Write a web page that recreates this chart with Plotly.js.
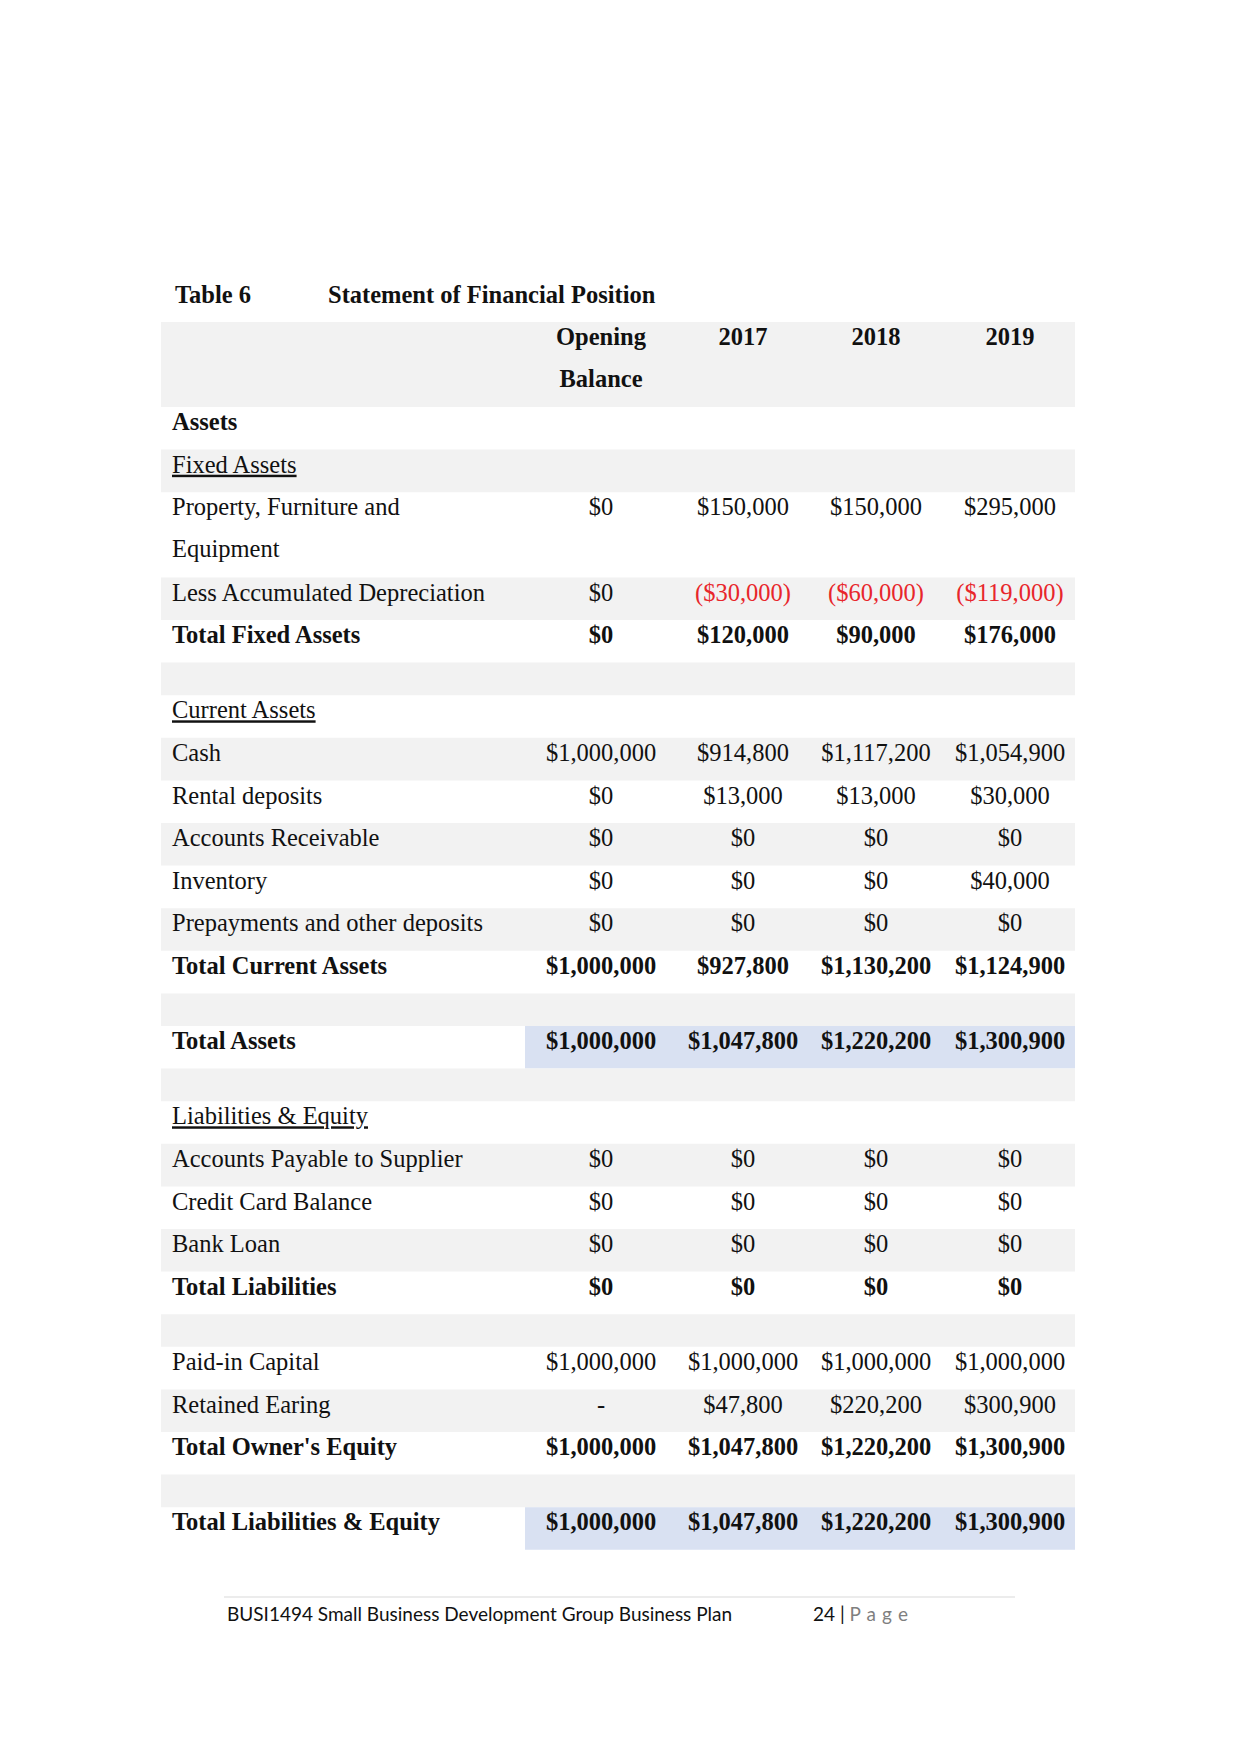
<!DOCTYPE html>
<html><head><meta charset="utf-8">
<script src="https://cdn.plot.ly/plotly-3.0.1.min.js"></script>
<style>html,body{margin:0;padding:0;background:#fff}</style>
</head><body><div id="chart" style="width:1241px;height:1754px"></div>
<script>
// ---------- data ----------
const tableNumber = 'Table 6';
const tableName = 'Statement of Financial Position';
const columnHeaders = ['Opening\nBalance', '2017', '2018', '2019'];
const rowLabels = [
  'Assets', 'Fixed Assets', 'Property, Furniture and\nEquipment', 'Less Accumulated Depreciation',
  'Total Fixed Assets', '', 'Current Assets', 'Cash', 'Rental deposits', 'Accounts Receivable',
  'Inventory', 'Prepayments and other deposits', 'Total Current Assets', '', 'Total Assets', '',
  'Liabilities & Equity', 'Accounts Payable to Supplier', 'Credit Card Balance', 'Bank Loan',
  'Total Liabilities', '', 'Paid-in Capital', 'Retained Earing', "Total Owner's Equity", '',
  'Total Liabilities & Equity'
];
const rowKinds = [
  'section', 'sub', 'item', 'item', 'total', 'blank', 'sub', 'item', 'item', 'item',
  'item', 'item', 'total', 'blank', 'grand', 'blank', 'sub', 'item', 'item', 'item',
  'total', 'blank', 'item', 'item', 'total', 'blank', 'grand'
];
const openingBalance = [null, null, 0, 0, 0, null, null, 1000000, 0, 0, 0, 0, 1000000, null, 1000000, null,
  null, 0, 0, 0, 0, null, 1000000, '-', 1000000, null, 1000000];
const values2017 = [null, null, 150000, -30000, 120000, null, null, 914800, 13000, 0, 0, 0, 927800, null, 1047800, null,
  null, 0, 0, 0, 0, null, 1000000, 47800, 1047800, null, 1047800];
const values2018 = [null, null, 150000, -60000, 90000, null, null, 1117200, 13000, 0, 0, 0, 1130200, null, 1220200, null,
  null, 0, 0, 0, 0, null, 1000000, 220200, 1220200, null, 1220200];
const values2019 = [null, null, 295000, -119000, 176000, null, null, 1054900, 30000, 0, 40000, 0, 1124900, null, 1300900, null,
  null, 0, 0, 0, 0, null, 1000000, 300900, 1300900, null, 1300900];
const footerText = 'BUSI1494 Small Business Development Group Business Plan';
const pageNumber = '24';

// ---------- layout / style ----------
const W = 1241, H = 1754;
const tableLeft = 161, tableRight = 1075, blueLeft = 525;
const labelX = 172;
const colX = [601, 743, 876, 1010];
const headerTop = 322, headerH = 85;
const itemH = 42.6, blankH = 32.6, lineGap = 42;
const textOffset = 17;
const GRAY = '#f2f2f2', BLUE = '#d9e1f2', RED = '#e8262b', INK = '#111111';
const SERIF = 'Liberation Serif, Times New Roman, serif';
const FS = 24.5;

const columns = [openingBalance, values2017, values2018, values2019];

function fmt(v) {
  if (typeof v !== 'number') return v;
  const s = '$' + Math.abs(v).toLocaleString('en-US');
  return v < 0 ? '(' + s + ')' : s;
}

const shapes = [];
const tx = [], ty = [], tt = [], tpos = [], tcol = [];
function addText(x, y, t, pos, col) { tx.push(x); ty.push(y); tt.push(t); tpos.push(pos); tcol.push(col || INK); }

// header band
shapes.push({type: 'rect', xref: 'x', yref: 'y', x0: tableLeft, x1: tableRight, y0: headerTop, y1: headerTop + headerH,
  fillcolor: GRAY, line: {width: 0}, layer: 'below'});
columnHeaders.forEach((h, c) => {
  h.split('\n').forEach((ln, k) => addText(colX[c], headerTop + textOffset + k * lineGap, '<b>' + ln + '</b>', 'middle center'));
});

let y = headerTop + headerH;
rowLabels.forEach((lab, i) => {
  const kind = rowKinds[i];
  const lines = lab ? lab.split('\n') : [];
  const h = kind === 'blank' ? blankH : itemH * Math.max(1, lines.length);
  if ((i + 1) % 2 === 0) {
    shapes.push({type: 'rect', xref: 'x', yref: 'y', x0: tableLeft, x1: tableRight, y0: y, y1: y + h,
      fillcolor: GRAY, line: {width: 0}, layer: 'below'});
  }
  if (kind === 'grand') {
    shapes.push({type: 'rect', xref: 'x', yref: 'y', x0: blueLeft, x1: tableRight, y0: y, y1: y + h,
      fillcolor: BLUE, line: {width: 0}, layer: 'below'});
  }
  const bold = kind === 'section' || kind === 'total' || kind === 'grand';
  lines.forEach((ln, k) => {
    let t = ln;
    if (kind === 'sub') t = '<u>' + t + '</u>';
    if (bold) t = '<b>' + t + '</b>';
    addText(labelX, y + textOffset + k * lineGap, t, 'middle right');
  });
  columns.forEach((col, c) => {
    const v = col[i];
    if (v === null || v === undefined) return;
    let t = fmt(v);
    if (bold) t = '<b>' + t + '</b>';
    addText(colX[c], y + textOffset, t, 'middle center', (typeof v === 'number' && v < 0) ? RED : INK);
  });
  y += h;
});

// footer line
shapes.push({type: 'line', xref: 'x', yref: 'y', x0: 224, x1: 1015, y0: 1597, y1: 1597, line: {color: '#d9d9d9', width: 1}});

const traces = [{
  type: 'scatter', mode: 'text', x: tx, y: ty, text: tt, textposition: tpos,
  textfont: {family: SERIF, size: FS, color: tcol}, hoverinfo: 'skip', showlegend: false, cliponaxis: false
}];

const annotations = [
  {xref: 'x', yref: 'y', x: 173, y: 294, xanchor: 'left', yanchor: 'middle', showarrow: false,
   text: '<b>' + tableNumber + '</b>', font: {family: SERIF, size: FS, color: INK}},
  {xref: 'x', yref: 'y', x: 326, y: 294, xanchor: 'left', yanchor: 'middle', showarrow: false,
   text: '<b>' + tableName + '</b>', font: {family: SERIF, size: FS, color: INK}},
  {xref: 'x', yref: 'y', x: 225, y: 1613, xanchor: 'left', yanchor: 'middle', showarrow: false,
   text: footerText, font: {family: 'Lato, Carlito, sans-serif', size: 19, color: '#111'}},
  {xref: 'x', yref: 'y', x: 811, y: 1613, xanchor: 'left', yanchor: 'middle', showarrow: false,
   text: pageNumber + ' | <span style="color:#7f7f7f">P \u200Aa \u200Ag \u200Ae</span>', font: {family: 'Lato, Carlito, sans-serif', size: 19, color: '#111'}}
];

const layout = {
  width: W, height: H, margin: {l: 0, r: 0, t: 0, b: 0}, paper_bgcolor: '#fff', plot_bgcolor: '#fff',
  xaxis: {range: [0, W], visible: false, fixedrange: true},
  yaxis: {range: [H, 0], visible: false, fixedrange: true},
  shapes: shapes, annotations: annotations, showlegend: false, hovermode: false
};
Plotly.newPlot('chart', traces, layout, {staticPlot: true, displayModeBar: false});
</script></body></html>
